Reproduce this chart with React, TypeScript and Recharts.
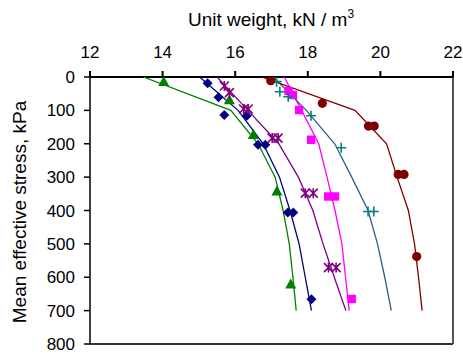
import { ComposedChart, Scatter, XAxis, YAxis, ReferenceLine, Label } from 'recharts'

// stress levels (kPa) at which the fitted curves are given
const stressLevels = [0, 100, 200, 300, 400, 500, 600, 700]
const xTicks = [12, 14, 16, 18, 20, 22]
const yTicks = [0, 100, 200, 300, 400, 500, 600, 700, 800]

// fitted curves: unit weight at each stress level
const curveGreen = [13.47, 15.88, 16.63, 17.1, 17.32, 17.49, 17.59, 17.68]
const curveNavy = [15.02, 16.08, 16.77, 17.22, 17.51, 17.76, 17.93, 18.1]
const curvePurple = [15.5, 16.35, 17.2, 17.74, 18.14, 18.42, 18.73, 19.05]
const curveMagenta = [17.35, 17.83, 18.3, 18.53, 18.75, 18.94, 19.04, 19.14]
const curveTeal = [17.05, 17.96, 18.74, 19.21, 19.66, 19.92, 20.12, 20.3]
const curveBrown = [16.73, 19.3, 20.17, 20.46, 20.77, 20.94, 21.05, 21.15]

// measured points
const ptsGreen = [
  { x: 14.03, y: 15 }, { x: 15.84, y: 70 }, { x: 16.5, y: 174 },
  { x: 17.15, y: 343 }, { x: 17.53, y: 622 },
]
const ptsNavy = [
  { x: 15.24, y: 19 }, { x: 15.54, y: 61 }, { x: 15.7, y: 114 }, { x: 16.32, y: 116 },
  { x: 16.63, y: 203 }, { x: 16.83, y: 203 }, { x: 17.45, y: 406 }, { x: 17.6, y: 406 },
  { x: 18.1, y: 666 },
]
const ptsPurple = [
  { x: 15.7, y: 27 }, { x: 15.84, y: 47 }, { x: 16.23, y: 96 }, { x: 16.36, y: 96 },
  { x: 17.02, y: 183 }, { x: 17.18, y: 183 }, { x: 17.93, y: 348 }, { x: 18.15, y: 348 },
  { x: 18.57, y: 571 }, { x: 18.78, y: 571 },
]
const ptsMagenta = [
  { x: 17.47, y: 42 }, { x: 17.59, y: 54 }, { x: 17.76, y: 99 }, { x: 18.09, y: 188 },
  { x: 18.56, y: 358 }, { x: 18.75, y: 358 }, { x: 19.21, y: 665 },
]
const ptsTeal = [
  { x: 17.14, y: 14 }, { x: 17.23, y: 44 }, { x: 17.46, y: 59 }, { x: 18.09, y: 116 },
  { x: 18.92, y: 212 }, { x: 19.66, y: 403 }, { x: 19.82, y: 403 },
]
const ptsBrown = [
  { x: 16.98, y: 11 }, { x: 18.4, y: 79 }, { x: 19.67, y: 147 }, { x: 19.83, y: 147 },
  { x: 20.49, y: 292 }, { x: 20.65, y: 292 }, { x: 21.0, y: 538 },
]

const toCurve = (vals: number[]) => vals.map((x, i) => ({ x, y: stressLevels[i] }))

const font = 'Liberation Sans, Arial, sans-serif'

const Triangle = ({ cx, cy, fill }: any) => (
  <polygon points={`${cx},${cy - 6} ${cx + 5.5},${cy + 4} ${cx - 5.5},${cy + 4}`} fill={fill} />
)
const Diamond = ({ cx, cy, fill }: any) => (
  <polygon points={`${cx},${cy - 5} ${cx + 5},${cy} ${cx},${cy + 5} ${cx - 5},${cy}`} fill={fill} />
)
const Square = ({ cx, cy, fill }: any) => (
  <rect x={cx - 4.2} y={cy - 4.2} width={8.4} height={8.4} fill={fill} />
)
const Dot = ({ cx, cy, fill }: any) => <circle cx={cx} cy={cy} r={4.6} fill={fill} />
const Plus = ({ cx, cy, fill }: any) => (
  <path d={`M${cx - 5},${cy}H${cx + 5}M${cx},${cy - 5}V${cy + 5}`} stroke={fill} strokeWidth={1.6} />
)
const Star = ({ cx, cy, fill }: any) => (
  <path
    d={`M${cx - 4.5},${cy - 4.5}L${cx + 4.5},${cy + 4.5}M${cx - 4.5},${cy + 4.5}L${cx + 4.5},${cy - 4.5}M${cx},${cy - 5}V${cy + 5}`}
    stroke={fill}
    strokeWidth={1.6}
  />
)
const NoDot = () => <g />

const series = [
  { name: 'green', curve: curveGreen, pts: ptsGreen, color: '#008000', line: '#008000', shape: Triangle },
  { name: 'navy', curve: curveNavy, pts: ptsNavy, color: '#000080', line: '#000080', shape: Diamond },
  { name: 'purple', curve: curvePurple, pts: ptsPurple, color: '#800080', line: '#800080', shape: Star },
  { name: 'magenta', curve: curveMagenta, pts: ptsMagenta, color: '#FF00FF', line: '#FF00FF', shape: Square },
  { name: 'teal', curve: curveTeal, pts: ptsTeal, color: '#008080', line: '#2E5E8E', shape: Plus },
  { name: 'brown', curve: curveBrown, pts: ptsBrown, color: '#800000', line: '#800000', shape: Dot },
]

export default function App() {
  return (
    <div style={{ position: 'absolute', left: 0, top: 0, background: '#fff', fontFamily: font }}>
      <ComposedChart width={463} height={356} margin={{ top: 27, right: 10, bottom: 12, left: 20 }}>
        <XAxis
          xAxisId={0}
          dataKey="x"
          type="number"
          orientation="top"
          domain={[12, 22]}
          ticks={xTicks}
          height={50}
          stroke="#000"
          strokeWidth={2}
          tickSize={6}
          tickMargin={13}
          tick={{ fill: '#000', fontSize: 17, fontFamily: font }}
          allowDataOverflow
        >
          <Label
            content={() => (
              <text x={271} y={26} textAnchor="middle" fontSize={19} fontFamily={font} fill="#000">
                Unit weight, kN / m
                <tspan fontSize={12} dy={-8}>3</tspan>
              </text>
            )}
          />
        </XAxis>
        <YAxis
          yAxisId={0}
          dataKey="y"
          type="number"
          reversed
          domain={[0, 800]}
          ticks={yTicks}
          width={70}
          stroke="#000"
          strokeWidth={1.5}
          tickSize={6}
          tickMargin={9}
          tick={{ fill: '#000', fontSize: 17, fontFamily: font }}
          allowDataOverflow
        >
          <Label
            content={() => (
              <text
                x={26}
                y={212}
                textAnchor="middle"
                fontSize={19}
                fontFamily={font}
                fill="#000"
                transform="rotate(-90, 26, 212)"
              >
                Mean effective stress, kPa
              </text>
            )}
          />
        </YAxis>
        <ReferenceLine x={22} stroke="#555" strokeWidth={2} />
        <ReferenceLine y={800} stroke="#333" strokeWidth={2} />
        {series.map(s => (
          <Scatter
            key={s.name + '-curve'}
            data={toCurve(s.curve)}
            fill={s.line}
            line={{ stroke: s.line, strokeWidth: 1.3 }}
            lineType="joint"
            shape={NoDot}
            isAnimationActive={false}
          />
        ))}
        {series.map(s => (
          <Scatter
            key={s.name + '-pts'}
            data={s.pts}
            fill={s.color}
            shape={s.shape}
            isAnimationActive={false}
          />
        ))}
      </ComposedChart>
    </div>
  )
}
